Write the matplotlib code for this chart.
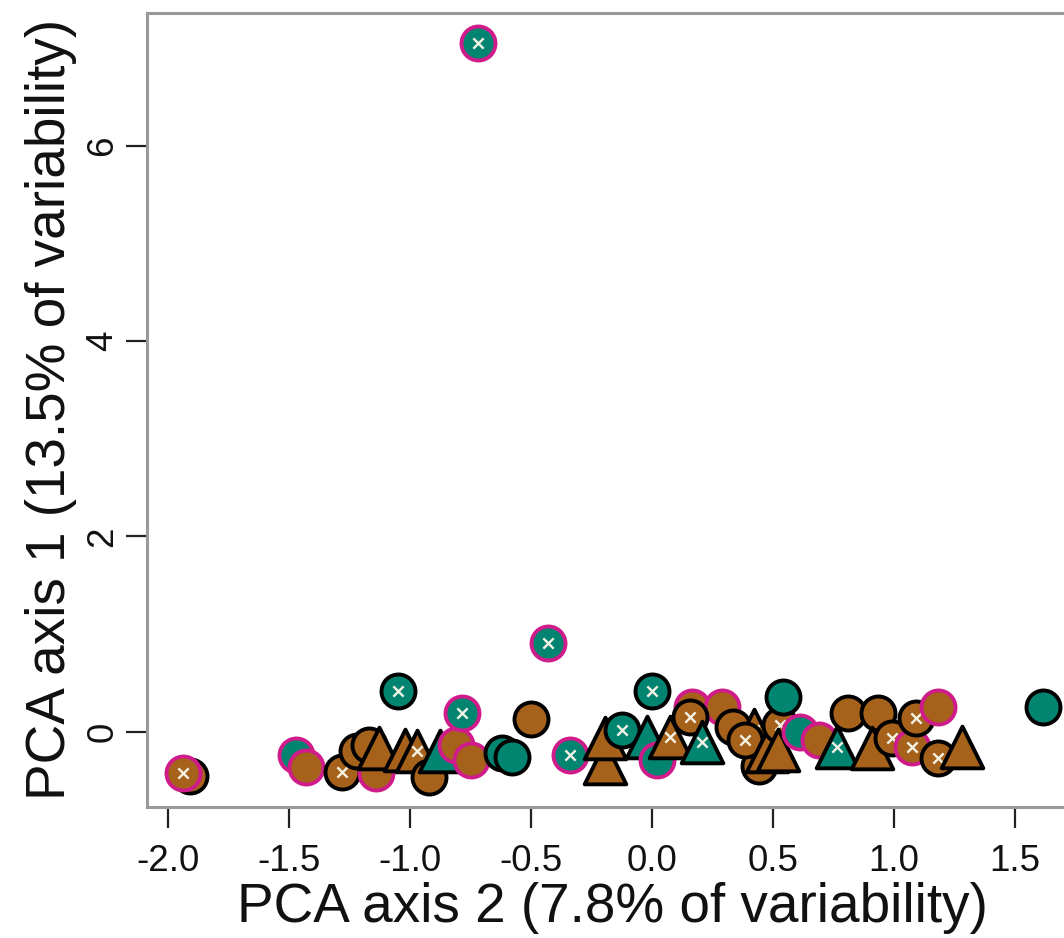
import matplotlib
matplotlib.use("Agg")
import matplotlib.pyplot as plt

plt.rcParams['font.family'] = ['Liberation Sans', 'DejaVu Sans']

# PCA scores
pc2 = [-1.91, -1.94, -1.47, -1.43, -1.28, -1.22, -1.17, -1.14, -1.13, -1.02,
       -0.97, -0.92, -0.875, -0.81, -0.75, -0.62, -0.58, -1.05, -0.785, -0.50,
       -0.34, -0.195, -0.195, -0.125, -0.02, 0.02, 0.075, 0.165, 0.29, 0.155,
       0.205, 0.335, 0.44, 0.42, 0.385, 0.475, 0.53, 0.52, 0.61, 0.69,
       0.81, 0.935, 0.765, 0.91, 0.99, 1.075, 1.18, 1.09, 1.18, 1.28,
       0.0, 0.54, 1.615, -0.43, -0.72]
pc1 = [-0.45, -0.42, -0.235, -0.36, -0.41, -0.20, -0.13, -0.42, -0.16, -0.18,
       -0.20, -0.46, -0.20, -0.13, -0.29, -0.215, -0.26, 0.42, 0.19, 0.13,
       -0.235, -0.32, -0.06, 0.02, -0.05, -0.29, -0.05, 0.26, 0.26, 0.15,
       -0.10, 0.05, -0.35, 0.02, -0.08, -0.20, 0.07, -0.18, 0.0, -0.08,
       0.19, 0.19, -0.15, -0.16, -0.06, -0.15, -0.27, 0.14, 0.25, -0.15,
       0.42, 0.36, 0.25, 0.91, 7.05]
shape = ['o', 'o', 'o', 'o', 'o', 'o', 'o', 'o', '^', '^',
         '^', 'o', '^', 'o', 'o', 'o', 'o', 'o', 'o', 'o',
         'o', '^', '^', 'o', '^', 'o', '^', 'o', 'o', 'o',
         '^', 'o', 'o', '^', 'o', '^', 'o', '^', 'o', 'o',
         'o', 'o', '^', '^', 'o', 'o', 'o', 'o', 'o', '^',
         'o', 'o', 'o', 'o', 'o']
group = ['B', 'B', 'T', 'B', 'B', 'B', 'B', 'B', 'B', 'B',
         'B', 'B', 'T', 'B', 'B', 'T', 'T', 'T', 'T', 'B',
         'T', 'B', 'B', 'T', 'T', 'T', 'B', 'B', 'B', 'B',
         'T', 'B', 'B', 'B', 'B', 'B', 'B', 'B', 'T', 'B',
         'B', 'B', 'T', 'B', 'B', 'B', 'B', 'B', 'B', 'B',
         'T', 'T', 'T', 'T', 'T']
outline = ['k', 'm', 'm', 'm', 'k', 'k', 'k', 'm', 'k', 'k',
           'k', 'k', 'k', 'm', 'm', 'k', 'k', 'k', 'm', 'k',
           'm', 'k', 'k', 'k', 'k', 'm', 'k', 'm', 'm', 'k',
           'k', 'k', 'k', 'k', 'k', 'k', 'k', 'k', 'm', 'm',
           'k', 'k', 'k', 'k', 'k', 'm', 'k', 'k', 'm', 'k',
           'k', 'k', 'k', 'm', 'm']
flagged = [0, 1, 0, 0, 1, 0, 0, 0, 0, 0,
           1, 0, 0, 0, 0, 0, 0, 1, 1, 0,
           1, 0, 0, 1, 0, 0, 1, 0, 0, 1,
           1, 0, 0, 1, 1, 0, 1, 0, 0, 0,
           0, 0, 1, 0, 1, 1, 1, 1, 0, 0,
           1, 0, 0, 1, 1]

fills = {'B': '#A6611A', 'T': '#018571'}
edges = {'k': '#000000', 'm': '#D01C8B'}
sizes = {'o': 600, '^': 900}

fig = plt.figure(figsize=(10.64, 9.38), dpi=100)
ax = fig.add_axes([0.1379, 0.140, 0.8753, 0.8465])

for i in range(len(pc2)):
    ax.scatter(pc2[i], pc1[i], marker=shape[i], s=sizes[shape[i]],
               facecolor=fills[group[i]], edgecolor=edges[outline[i]],
               linewidths=2.8, zorder=2 + i * 0.01)
    if flagged[i]:
        ax.scatter(pc2[i], pc1[i], marker='x', s=55, color='#f5f2e6',
                   linewidths=1.7, zorder=2.005 + i * 0.01)

ax.set_xlim(-2.088, 1.76)
ax.set_ylim(-0.765, 7.36)

ax.set_xticks([-2.0, -1.5, -1.0, -0.5, 0.0, 0.5, 1.0, 1.5])
ax.set_xticklabels(['-2.0', '-1.5', '-1.0', '-0.5', '0.0', '0.5', '1.0', '1.5'])
ax.set_yticks([0, 2, 4, 6])
ax.set_yticklabels(['0', '2', '4', '6'], rotation=90, va='center')

for sp in ax.spines.values():
    sp.set_color('#999999')
    sp.set_linewidth(2.2)

ax.tick_params(axis='both', length=15, width=1.6, color='#222222',
               labelsize=26.5, labelcolor='#111111')
ax.tick_params(axis='x', pad=12)
ax.tick_params(axis='y', pad=4)

ax.set_xlabel('PCA axis 2 (7.8% of variability)', fontsize=39.5,
              color='#111111', labelpad=2)
ax.set_ylabel('PCA axis 1 (13.5% of variability)', fontsize=39.5,
              color='#111111', labelpad=6)

fig.savefig('out.png', dpi=100)
